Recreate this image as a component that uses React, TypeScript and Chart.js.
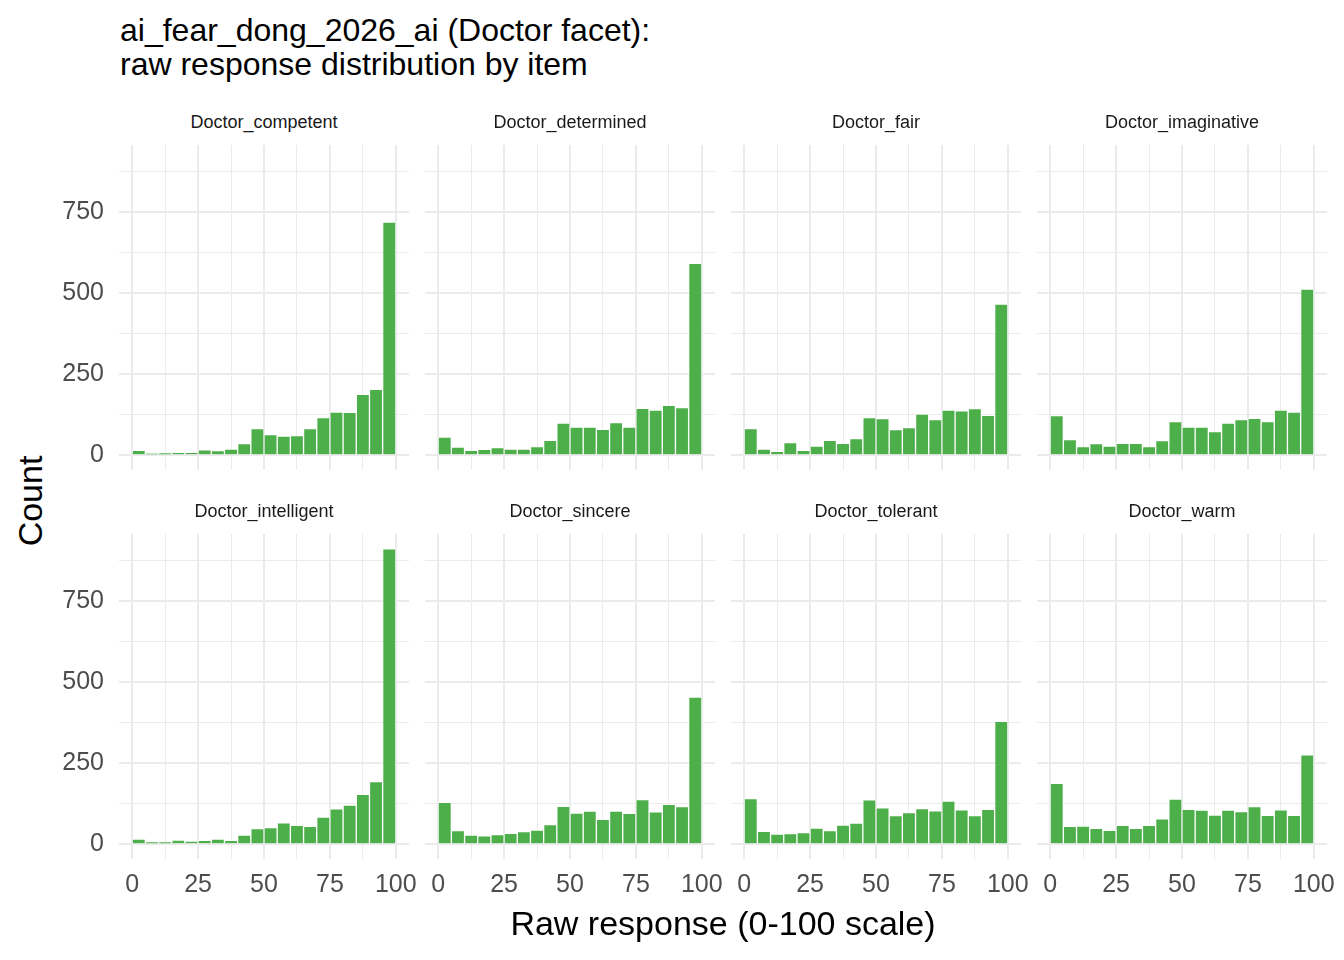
import React, { useEffect, useRef } from "react";
import { Chart, registerables } from "chart.js";

Chart.register(...registerables);

// histogram bins: width 5 on the 0-100 response scale
const binCenters = [
  2.5, 7.5, 12.5, 17.5, 22.5, 27.5, 32.5, 37.5, 42.5, 47.5,
  52.5, 57.5, 62.5, 67.5, 72.5, 77.5, 82.5, 87.5, 92.5, 97.5,
];

const competentCounts = [15, 5, 7, 9, 8, 17, 14, 19, 36, 82, 64, 59, 61, 82, 116, 133, 132, 188, 203, 719];
const determinedCounts = [56, 25, 15, 18, 24, 19, 19, 27, 46, 99, 87, 87, 80, 101, 87, 145, 139, 154, 147, 592];
const fairCounts = [82, 19, 12, 39, 15, 28, 46, 37, 51, 116, 113, 79, 85, 127, 110, 139, 137, 144, 123, 466];
const imaginativeCounts = [122, 48, 27, 36, 28, 37, 37, 27, 45, 104, 87, 87, 73, 99, 110, 114, 104, 139, 133, 512];
const intelligentCounts = [16, 7, 7, 13, 10, 12, 16, 12, 28, 48, 51, 66, 58, 55, 84, 109, 121, 154, 193, 911];
const sincereCounts = [129, 42, 28, 26, 30, 34, 39, 44, 61, 117, 96, 102, 77, 102, 95, 138, 100, 123, 116, 454];
const tolerantCounts = [141, 40, 31, 33, 36, 50, 42, 59, 65, 137, 112, 88, 98, 110, 103, 133, 106, 88, 108, 379];
const warmCounts = [188, 55, 56, 49, 43, 58, 49, 58, 78, 139, 108, 105, 90, 105, 101, 116, 89, 106, 89, 276];

const facetNames = [
  "Doctor_competent", "Doctor_determined", "Doctor_fair", "Doctor_imaginative",
  "Doctor_intelligent", "Doctor_sincere", "Doctor_tolerant", "Doctor_warm",
];
const facetCounts = [
  competentCounts, determinedCounts, fairCounts, imaginativeCounts,
  intelligentCounts, sincereCounts, tolerantCounts, warmCounts,
];

const xGridTicks = [0, 12.5, 25, 37.5, 50, 62.5, 75, 87.5, 100];
const xLabelTicks = [0, 25, 50, 75, 100];
const yGridTicks = [0, 125, 250, 375, 500, 625, 750, 875];
const yLabelTicks = [0, 250, 500, 750];

const FONT = '"Liberation Sans", Arial, Helvetica, sans-serif';
const PANEL_LEFTS = [119, 425, 731, 1037];
const PANEL_TOPS = [145, 534];
const PANEL_W = 290;
const PANEL_H = 325;
const Y_AXIS_W = 70;
const SIDE_PAD = 45;
const X_AXIS_H = 50;
const TOP_PAD = 40;

interface FacetPanelProps {
  counts: number[];
  col: number;
  row: number;
}

const FacetPanel = (props: FacetPanelProps) => {
  const canvasRef = useRef<HTMLCanvasElement | null>(null);
  const { counts, col, row } = props;
  const showY = col === 0;
  const showX = row === 1;
  const leftSpace = showY ? Y_AXIS_W : SIDE_PAD;
  const bottomSpace = showX ? X_AXIS_H : TOP_PAD;

  useEffect(() => {
    const ctx = canvasRef.current?.getContext("2d");
    if (!ctx) return;

    const gridWidth = (step: number) => (c: any) =>
      c.tick && Math.abs(c.tick.value % step) < 1e-6 ? 2 : 1;

    const chart = new Chart(ctx, {
      type: "bar",
      data: {
        datasets: [
          {
            data: binCenters.map((x, i) => ({ x, y: counts[i] })),
            backgroundColor: "#4DAF4A",
            borderColor: "rgba(255,255,255,0.3)",
            borderWidth: 1,
            barPercentage: 1,
            categoryPercentage: 1,
          },
        ],
      },
      options: {
        animation: false,
        responsive: true,
        maintainAspectRatio: false,
        layout: {
          padding: { left: showY ? 0 : SIDE_PAD, right: SIDE_PAD, top: TOP_PAD, bottom: showX ? 0 : TOP_PAD },
        },
        plugins: { legend: { display: false }, tooltip: { enabled: false } },
        scales: {
          x: {
            type: "linear",
            min: -5,
            max: 105,
            offset: false,
            border: { display: false },
            grid: { offset: false, drawTicks: false, color: "#EBEBEB", lineWidth: gridWidth(25) },
            afterBuildTicks: (scale: any) => {
              scale.ticks = xGridTicks.map((v) => ({ value: v }));
            },
            afterFit: (scale: any) => {
              scale.height = showX ? X_AXIS_H : 0;
            },
            ticks: {
              display: showX,
              autoSkip: false,
              maxRotation: 0,
              padding: 11,
              color: "#4D4D4D",
              font: { family: FONT, size: 25 },
              callback: (v: any) => (xLabelTicks.includes(Number(v)) ? String(v) : ""),
            },
          },
          y: {
            type: "linear",
            min: -45.5,
            max: 956.5,
            border: { display: false },
            grid: { drawTicks: false, color: "#EBEBEB", lineWidth: gridWidth(250) },
            afterBuildTicks: (scale: any) => {
              scale.ticks = yGridTicks.map((v) => ({ value: v }));
            },
            afterFit: (scale: any) => {
              scale.width = showY ? Y_AXIS_W : 0;
            },
            ticks: {
              display: showY,
              autoSkip: false,
              padding: 15,
              color: "#4D4D4D",
              font: { family: FONT, size: 25 },
              callback: (v: any) => (yLabelTicks.includes(Number(v)) ? String(v) : ""),
            },
          },
        },
      },
    });

    return () => {
      chart.destroy();
    };
  }, [counts, col, row]);

  return (
    <div
      style={{
        position: "absolute",
        left: PANEL_LEFTS[col] - leftSpace,
        top: PANEL_TOPS[row] - TOP_PAD,
        width: PANEL_W + leftSpace + SIDE_PAD,
        height: PANEL_H + TOP_PAD + bottomSpace,
      }}
    >
      <canvas ref={canvasRef} />
    </div>
  );
};

const App = () => {
  return (
    <div
      style={{
        position: "absolute",
        left: 0,
        top: 0,
        width: 1344,
        height: 960,
        background: "#FFFFFF",
        fontFamily: FONT,
        overflow: "hidden",
      }}
    >
      <div style={{ position: "absolute", left: 120, top: 13, fontSize: 32, lineHeight: "34px", color: "#000000" }}>
        ai_fear_dong_2026_ai (Doctor facet):
        <br />
        raw response distribution by item
      </div>

      {facetNames.map((name, i) => {
        const col = i % 4;
        const row = Math.floor(i / 4);
        return (
          <React.Fragment key={name}>
            <div
              style={{
                position: "absolute",
                left: PANEL_LEFTS[col],
                width: PANEL_W,
                top: PANEL_TOPS[row] - 23 - 11,
                height: 22,
                lineHeight: "22px",
                textAlign: "center",
                fontSize: 18,
                color: "#1A1A1A",
              }}
            >
              {name}
            </div>
            <FacetPanel counts={facetCounts[i]} col={col} row={row} />
          </React.Fragment>
        );
      })}

      <div
        style={{
          position: "absolute",
          left: 30,
          top: 501,
          transform: "translate(-50%, -50%) rotate(-90deg)",
          fontSize: 34,
          lineHeight: "38px",
          whiteSpace: "nowrap",
          color: "#000000",
        }}
      >
        Count
      </div>
      <div
        style={{
          position: "absolute",
          left: 723,
          top: 923,
          transform: "translate(-50%, -50%)",
          fontSize: 34,
          lineHeight: "38px",
          whiteSpace: "nowrap",
          color: "#000000",
        }}
      >
        Raw response (0-100 scale)
      </div>
    </div>
  );
};

export default App;
